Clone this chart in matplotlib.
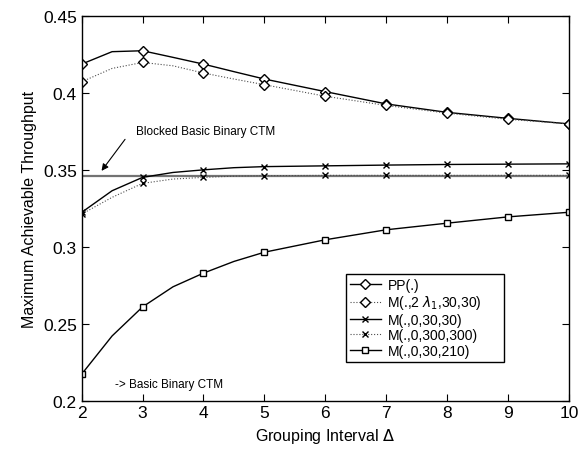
import matplotlib.pyplot as plt
import numpy as np

plt.rcParams['font.family'] = ['Liberation Sans', 'DejaVu Sans']

# values (integer points carry markers, half points only shape the curves)
x = [2, 2.5, 3, 3.5, 4, 4.5, 5, 6, 7, 8, 9, 10]
pp = [0.4189, 0.4270, 0.4276, 0.4233, 0.4189, 0.4140, 0.4092, 0.4010, 0.3930, 0.3875, 0.3836, 0.3800]
m_lam = [0.4074, 0.4161, 0.4200, 0.4178, 0.4131, 0.4092, 0.4055, 0.3980, 0.3920, 0.3870, 0.3830, 0.3800]
m_30 = [0.3224, 0.3365, 0.3452, 0.3484, 0.3501, 0.3515, 0.3522, 0.3527, 0.3532, 0.3536, 0.3538, 0.3540]
m_300 = [0.3213, 0.3322, 0.3413, 0.3441, 0.3452, 0.3460, 0.3463, 0.3465, 0.3465, 0.3465, 0.3465, 0.3465]
m_210 = [0.2171, 0.2420, 0.2609, 0.2740, 0.2829, 0.2905, 0.2965, 0.3046, 0.3111, 0.3154, 0.3195, 0.3225]
blocked = 0.3462

marks = [i for i, v in enumerate(x) if float(v).is_integer()]

fig = plt.figure(figsize=(5.83, 4.56), dpi=100)
ax = fig.add_axes([0.140, 0.1195, 0.836, 0.8425])

ax.axhline(blocked, color='0.45', lw=1.6, zorder=1)

ax.plot(x, pp, 'k-', lw=1, marker='D', ms=5.5, mfc='white', mec='k', markevery=marks, label='PP(.)')
ax.plot(x, m_lam, ':', color='0.3', lw=0.8, marker='D', ms=5.5, mfc='white', mec='k', markevery=marks,
        label=r'M(.,2 $\lambda_1$,30,30)')
ax.plot(x, m_30, 'k-', lw=1, marker='x', ms=5, mew=1, markevery=marks, label='M(.,0,30,30)')
ax.plot(x, m_300, ':', color='0.3', lw=0.8, marker='x', ms=5, mew=1, mec='k', markevery=marks,
        label='M(.,0,300,300)')
ax.plot(x, m_210, 'k-', lw=1, marker='s', ms=5, mfc='white', mec='k', markevery=marks,
        label='M(.,0,30,210)')

ax.annotate('', xy=(2.30, 0.348), xytext=(2.74, 0.3714),
            arrowprops=dict(arrowstyle='-|>', color='k', lw=0.8, mutation_scale=10))
ax.text(2.90, 0.3753, 'Blocked Basic Binary CTM', fontsize=8.5, va='center', ha='left')
ax.text(2.55, 0.211, '-> Basic Binary CTM', fontsize=8.5, va='center', ha='left')

ax.set_xlim(2, 10)
ax.set_ylim(0.2, 0.45)
ax.set_xticks(range(2, 11))
ax.set_yticks([0.2, 0.25, 0.3, 0.35, 0.4, 0.45])
ax.set_yticklabels(['0.2', '0.25', '0.3', '0.35', '0.4', '0.45'])
ax.tick_params(direction='in', top=True, right=True, labelsize=12.5, length=5, width=0.8)
for s in ax.spines.values():
    s.set_linewidth(1)

ax.set_xlabel('Grouping Interval $\\Delta$', fontsize=11.5)
ax.set_ylabel('Maximum Achievable Throughput', fontsize=11.5)

leg = ax.legend(loc='lower left', bbox_to_anchor=(0.542, 0.101, 0.324, 0.211), mode='expand',
                fontsize=10, frameon=True, fancybox=False, edgecolor='k', framealpha=1,
                handlelength=2.2, handletextpad=0.5, borderpad=0.3, labelspacing=0.1,
                borderaxespad=0)
leg.get_frame().set_linewidth(1)

fig.savefig('out.png', dpi=100)
